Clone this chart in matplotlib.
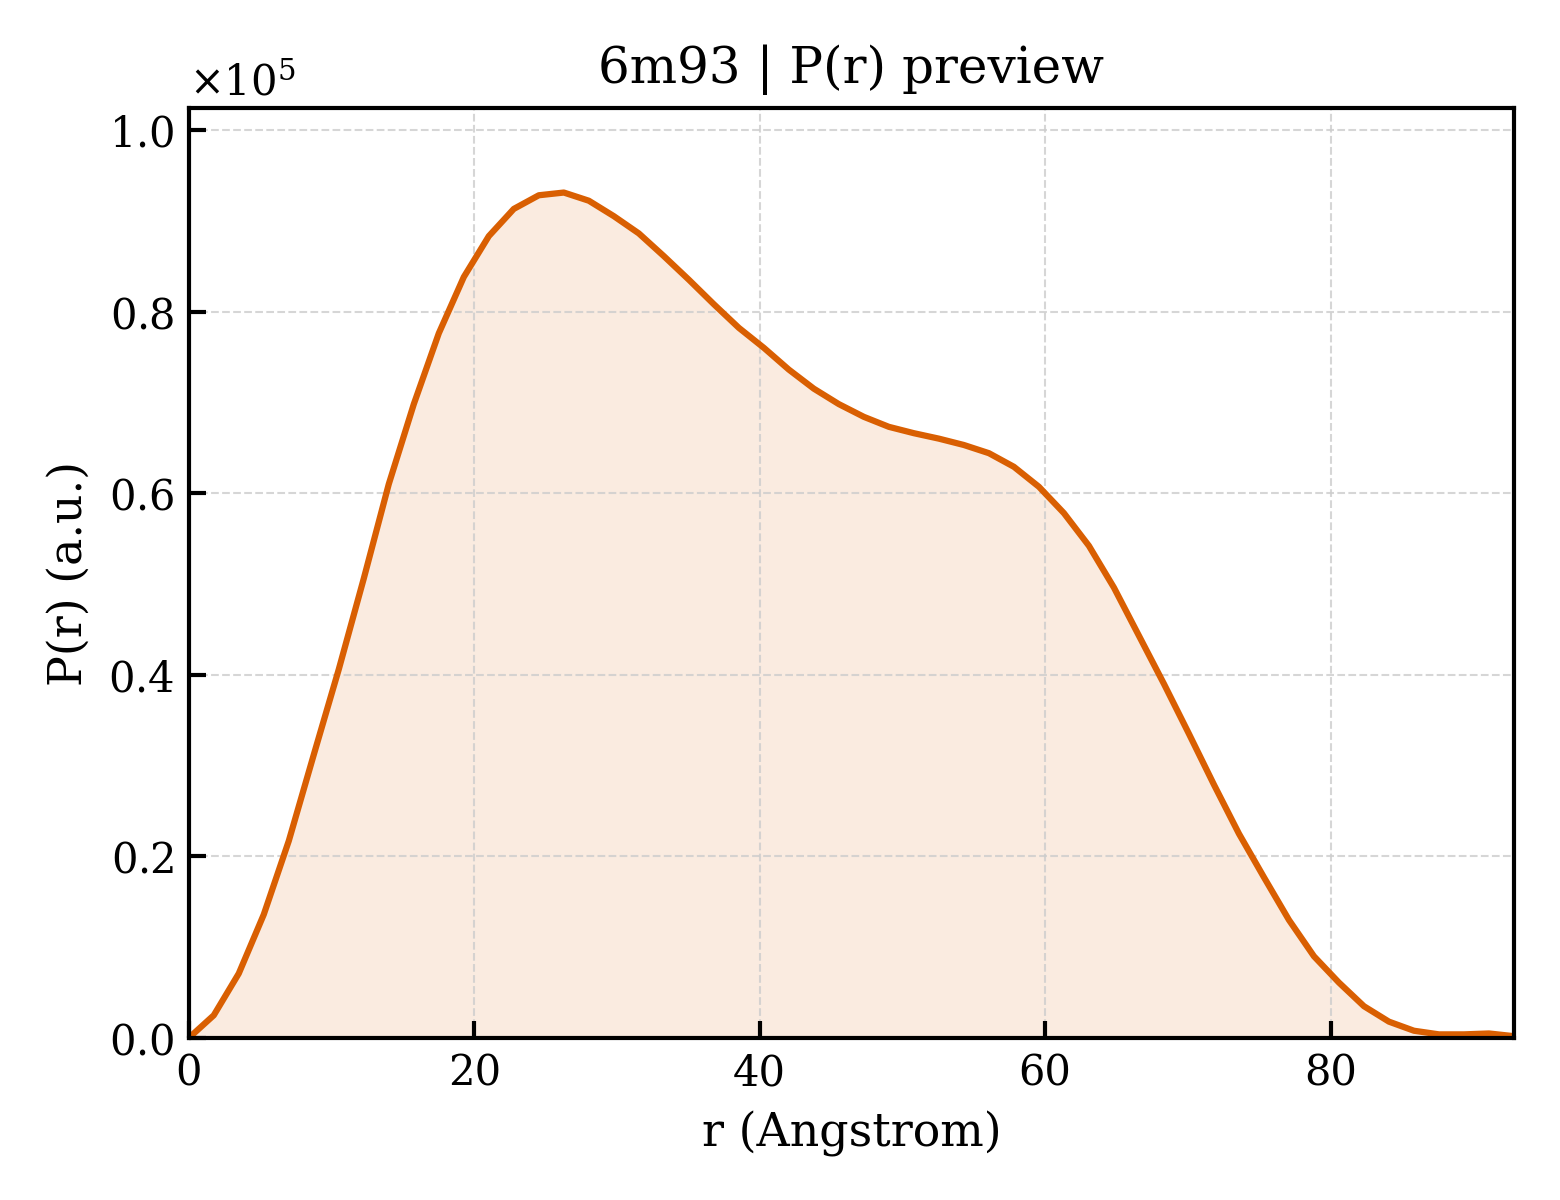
import numpy as np
import matplotlib
matplotlib.use("Agg")
import matplotlib.pyplot as plt

plt.rcParams['font.family'] = ['DejaVu Serif']
plt.rcParams['mathtext.fontset'] = 'dejavuserif'

# r grid (Angstrom)
r = [0.0, 1.752, 3.504, 5.256, 7.008, 8.76, 10.512, 12.264, 14.016, 15.768,
     17.52, 19.272, 21.024, 22.776, 24.528, 26.28, 28.032, 29.784, 31.536, 33.288,
     35.04, 36.792, 38.544, 40.296, 42.048, 43.8, 45.552, 47.304, 49.056, 50.808,
     52.56, 54.312, 56.064, 57.816, 59.568, 61.32, 63.072, 64.824, 66.576, 68.328,
     70.08, 71.832, 73.584, 75.336, 77.088, 78.84, 80.592, 82.344, 84.096, 85.848,
     87.6, 89.352, 91.104, 92.856]

# P(r) in units of 1e5
pr_scaled = [0.000, 0.025, 0.071, 0.136, 0.217, 0.312, 0.406, 0.506, 0.610, 0.698,
             0.776, 0.838, 0.883, 0.913, 0.928, 0.931, 0.922, 0.905, 0.886, 0.861,
             0.835, 0.808, 0.782, 0.760, 0.736, 0.715, 0.698, 0.684, 0.673, 0.666,
             0.660, 0.653, 0.644, 0.629, 0.607, 0.578, 0.542, 0.496, 0.443, 0.390,
             0.335, 0.279, 0.225, 0.177, 0.130, 0.090, 0.061, 0.035, 0.018, 0.008,
             0.004, 0.004, 0.005, 0.002]

pdb_id = "6m93"
line_color = "#d95f02"

r = np.array(r)
pr = np.array(pr_scaled) * 1e5

fig, ax = plt.subplots(figsize=(5.2, 4), dpi=300)
fig.subplots_adjust(left=0.121, right=0.9705, top=0.91, bottom=0.135)

ax.plot(r, pr, color=line_color, lw=1.5)
ax.fill_between(r, pr, 0, color=line_color, alpha=0.12, lw=0)

ax.set_xlim(0, r[-1])
ax.set_ylim(0, pr.max() * 1.1)
ax.set_xlabel("r (Angstrom)", fontsize=11)
ax.set_ylabel("P(r) (a.u.)", fontsize=11)
ax.set_title(f"{pdb_id} | P(r) preview", fontsize=12)

ax.ticklabel_format(axis='y', style='sci', scilimits=(0, 0), useMathText=True)
ax.tick_params(direction='in', labelsize=10, length=4, width=1.0)
ax.yaxis.get_offset_text().set_fontsize(10)
for sp in ax.spines.values():
    sp.set_linewidth(1.0)
ax.grid(True, ls='--', lw=0.5, color='#cccccc', alpha=0.8)

fig.savefig("out.png", dpi=300)
